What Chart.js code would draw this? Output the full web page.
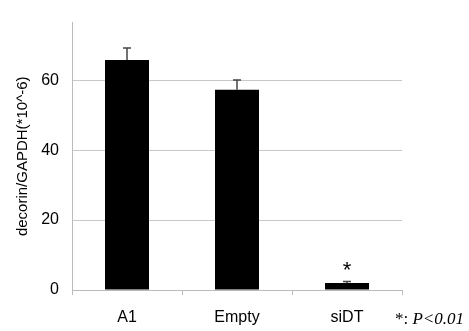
<!DOCTYPE html>
<html>
<head>
<meta charset="utf-8">
<script src="https://cdn.jsdelivr.net/npm/chart.js@4"></script>
<style>
  html,body{margin:0;padding:0;background:#fff;}
  #wrap{width:469px;height:331px;position:relative;}
</style>
</head>
<body>
<div id="wrap"><canvas id="chart"></canvas></div>
<script>
// data
const groups=["A1","Empty","siDT"];
const means=[65.8,57.3,2.0];
const errors=[3.4,2.8,0.4];
const marks=["","","*"];
const yTicks=[0,20,40,60];

const errorBars={
    id:'errorBars',
    afterDatasetsDraw:(chart)=>{
        let c=chart.ctx;
        let meta=chart.getDatasetMeta(0);
        let y=chart.scales.y;
        c.save();
        c.strokeStyle='#444';
        c.lineWidth=1.5;
        meta.data.forEach((bar,i)=>{
            let top=y.getPixelForValue(means[i]+errors[i]);
            c.beginPath();
            c.moveTo(bar.x,bar.y);
            c.lineTo(bar.x,top);
            c.moveTo(bar.x-4,top);
            c.lineTo(bar.x+4,top);
            c.stroke();
            if(marks[i]){
                c.fillStyle='#000';
                c.font='22px "Liberation Sans", Arial';
                c.textAlign='center';
                c.textBaseline='middle';
                c.fillText(marks[i],bar.x,top-11);
            }
        });
        // significance note
        c.fillStyle='#000';
        c.textBaseline='middle';
        c.textAlign='left';
        c.font='17px "Liberation Serif", "Times New Roman"';
        c.fillText('*: ',395,320);
        let w=c.measureText('*: ').width;
        c.font='italic 17px "Liberation Serif", "Times New Roman"';
        c.fillText('P<0.01',395+w,320);
        c.restore();
    }
};

new Chart(document.getElementById('chart'),{
    type:'bar',
    data:{
        labels:groups,
        datasets:[{
            data:means,
            backgroundColor:'#000',
            borderWidth:0,
            barPercentage:0.4,
            categoryPercentage:1
        }]
    },
    options:{
        responsive:true,
        maintainAspectRatio:false,
        animation:false,
        layout:{padding:{top:12,right:67,left:0,bottom:0}},
        plugins:{legend:{display:false},tooltip:{enabled:false}},
        scales:{
            x:{
                grid:{drawOnChartArea:false,drawTicks:true,tickLength:5,color:'#bbb',offset:true},
                border:{color:'#bbb',width:1},
                ticks:{color:'#000',font:{family:'"Liberation Sans", Arial',size:16},padding:13},
                afterFit:(s)=>{s.height=41;}
            },
            y:{
                min:0,
                max:76.5,
                afterBuildTicks:(s)=>{s.ticks=yTicks.map(v=>({value:v}));},
                grid:{color:'#c8c8c8',drawTicks:false},
                border:{color:'#bbb',width:1},
                ticks:{color:'#000',font:{family:'"Liberation Sans", Arial',size:16},padding:13},
                title:{display:true,text:'decorin/GAPDH(*10^-6)',color:'#000',font:{family:'"Liberation Sans", Arial',size:15},padding:{top:14,bottom:0}},
                afterFit:(s)=>{s.width=72;}
            }
        }
    },
    plugins:[errorBars]
});
</script>
</body>
</html>
